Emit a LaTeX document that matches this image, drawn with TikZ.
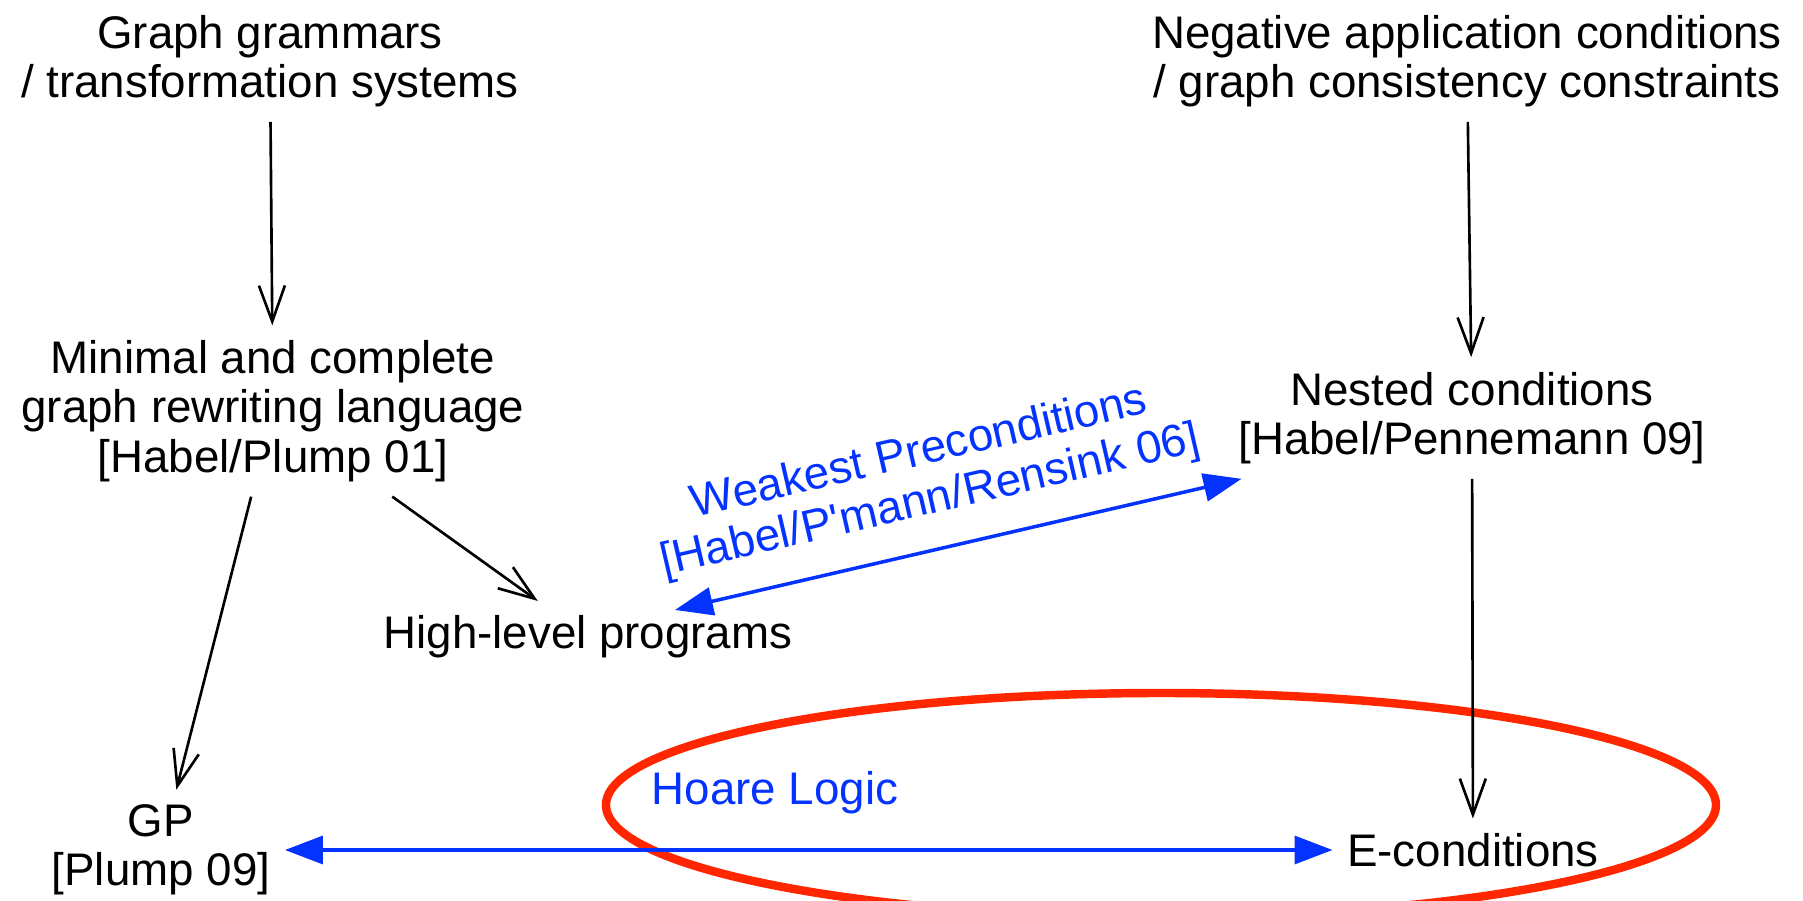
\documentclass[tikz,border=0pt]{standalone}
\usepackage{fontspec}
\setmainfont{Liberation Sans}
\usetikzlibrary{arrows.meta,positioning,calc}
\definecolor{ink}{HTML}{000000}
\definecolor{linkblue}{HTML}{0433FF}
\definecolor{hoarered}{HTML}{FF2600}
\tikzset{
  base/.style={align=center, inner sep=4pt, text=ink},
  topic/.style={base},
  blab/.style={base, text=linkblue},
  arr/.style={-{Straight Barb[length=3.6mm,width=2.6mm]}, line width=0.75pt, draw=ink},
  barr/.style={{Triangle[length=3.8mm,width=2.8mm]}-{Triangle[length=3.8mm,width=2.8mm]}, line width=1pt, draw=linkblue},
  ring/.style={draw=hoarered, line width=2.4pt},
}
\begin{document}
\begin{tikzpicture}[font=\fontsize{13}{14.1}\selectfont]
    \useasboundingbox (0,0) rectangle (18.03,9);
    \node[topic] (gg) at (2.70,8.39) {Graph grammars\\/ transformation systems};
    \node[topic] (nac) at (14.67,8.39) {Negative application conditions\\/ graph consistency constraints};
    \node[topic] (mcl) at (2.73,4.89) {Minimal and complete\\graph rewriting language\\{[Habel/Plump 01]}};
    \node[topic] (nc) at (14.72,4.82) {Nested conditions\\{[Habel/Pennemann 09]}};
    \node[topic] (hlp) at (5.88,2.63) {High-level programs};
    \node[topic] (gp) at (1.61,0.50) {GP\\{[Plump 09]}};
    \node[topic] (ec) at (14.73,0.50) {E-conditions};
    \draw[ring] (11.61,0.95) ellipse [x radius=5.55, y radius=1.12];
    \node[blab] (hl) at (7.75,1.07) {Hoare Logic};
    \foreach \a/\b in {gg/mcl, nac/nc, nc/ec, mcl/hlp, mcl/gp} { \draw[arr] (\a) -- (\b); }
    \draw[barr] (gp) -- (ec);
    \draw[barr] ([xshift=0.87cm,yshift=-0.09cm]hlp.north) -- node[blab, sloped, above=3pt, pos=0.47] (wp) {Weakest Preconditions\\{[Habel/P\textquotesingle mann/Rensink 06]}} ([xshift=0.18cm]nc.south west);
  \end{tikzpicture}
\end{document}
